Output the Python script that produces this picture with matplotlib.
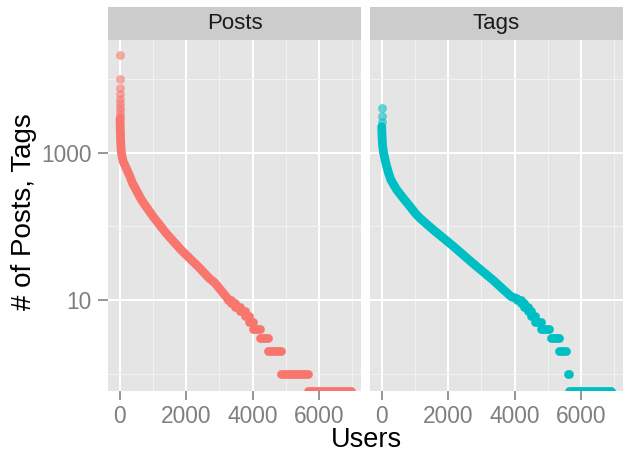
import numpy as np
import matplotlib
matplotlib.use("Agg")
import matplotlib.pyplot as plt
from matplotlib.ticker import FixedLocator, NullFormatter

plt.rcParams['font.family'] = ['Liberation Sans', 'DejaVu Sans']

W, H, DPI = 623, 455, 100

panel_names = ["Posts", "Tags"]
panel_colors = ["#F8766D", "#00BFC4"]

# ---- Posts (rank of user -> number of posts) ----
posts_head_rank = [1, 2, 3, 4, 5, 6, 7, 8, 9, 10]
posts_head_value = [21500, 10000, 7600, 6300, 5500, 4800, 4200, 3800, 3400, 3100]
posts_curve_rank = [12, 20, 30, 45, 70, 110, 200, 310, 390, 660, 1010, 1400, 1850, 2380, 2700, 2870, 3250]
posts_curve_value = [2900, 2100, 1450, 1100, 900, 760, 620, 480, 387, 229, 136, 81, 48, 28, 19.7, 17, 10.5]
posts_step_value = [10, 9, 8, 7, 6, 5, 4, 3, 2, 1, 0]
posts_step_start = [3250, 3350, 3480, 3620, 3760, 3900, 4020, 4230, 4480, 4870, 5680]
posts_step_end = [3350, 3480, 3620, 3760, 3900, 4020, 4230, 4470, 4870, 5670, 6950]

# ---- Tags (rank of user -> number of tags) ----
tags_head_rank = [1, 2, 3]
tags_head_value = [4060, 3180, 2670]
tags_curve_rank = [4, 8, 15, 30, 60, 120, 210, 280, 460, 660, 860, 1010, 1160, 1560, 2160, 2750, 3350, 3900, 4080]
tags_curve_value = [2280, 1900, 1600, 1250, 1000, 750, 530, 430, 313, 240, 186, 152, 129, 89.7, 53.7, 31.5, 18.7, 11.1, 10.4]
tags_step_value = [10, 9, 8, 7, 6, 5, 4, 3, 2, 1, 0]
tags_step_start = [4080, 4200, 4300, 4400, 4500, 4620, 4800, 5100, 5350, 5605, 5650]
tags_step_end = [4200, 4300, 4400, 4500, 4620, 4790, 5040, 5340, 5560, 5635, 6900]

x_ticks = [0, 2000, 4000, 6000]
x_minor = [1000, 3000, 5000, 7000]
y_ticks = [10, 1000]
y_tick_labels = ["10", "1000"]
y_minor = [1, 100, 10000]

series = [
    (posts_head_rank, posts_head_value, posts_curve_rank, posts_curve_value,
     posts_step_value, posts_step_start, posts_step_end),
    (tags_head_rank, tags_head_value, tags_curve_rank, tags_curve_value,
     tags_step_value, tags_step_start, tags_step_end),
]

XLIM = (-350, 7265)
YLIM = (10 ** -0.238, 10 ** 4.537)

fig = plt.figure(figsize=(W / DPI, H / DPI), dpi=DPI)

def px_axes(left, top, right, bottom):
    return fig.add_axes([left / W, 1 - bottom / H, (right - left) / W, (bottom - top) / H])

panel_px = [(108, 361), (370, 623)]
pt = 72 / DPI
band_lw = 8.8 * pt
grey50 = "#7F7F7F"

for i, (name, col, (l, r), data) in enumerate(zip(panel_names, panel_colors, panel_px, series)):
    hr, hv, cr, cv, sv, ss, se = data
    ax = px_axes(l, 40, r, 391)
    ax.set_facecolor("#E5E5E5")
    for s in ax.spines.values():
        s.set_visible(False)
    ax.set_yscale("log")
    ax.set_xlim(*XLIM)
    ax.set_ylim(*YLIM)
    ax.set_axisbelow(True)

    ax.xaxis.set_major_locator(FixedLocator(x_ticks))
    ax.xaxis.set_minor_locator(FixedLocator(x_minor))
    ax.yaxis.set_major_locator(FixedLocator(y_ticks))
    ax.yaxis.set_minor_locator(FixedLocator(y_minor))
    ax.yaxis.set_minor_formatter(NullFormatter())
    ax.set_xticklabels([str(t) for t in x_ticks])
    ax.set_yticklabels(y_tick_labels)

    ax.grid(which="major", color="white", linewidth=2.0 * pt)
    ax.grid(which="minor", color="#F2F2F2", linewidth=1.0 * pt)
    ax.tick_params(which="minor", length=0)
    ax.tick_params(axis="x", which="major", length=9 * pt, width=1.6 * pt,
                   color=grey50, labelcolor=grey50, labelsize=16.4, pad=3.5)
    if i == 0:
        ax.tick_params(axis="y", which="major", length=10 * pt, width=1.6 * pt,
                       color=grey50, labelcolor=grey50, labelsize=16.4, pad=4.5)
    else:
        ax.tick_params(axis="y", which="major", length=0, labelleft=False)

    # continuous band of densely packed points
    ax.plot(cr, cv, color=col, lw=band_lw, solid_capstyle="round",
            solid_joinstyle="round", zorder=3)
    # integer-valued tail levels (0 drawn at panel bottom, like -Inf on a log scale)
    for v, a, b in zip(sv, ss, se):
        yv = v if v > 0 else YLIM[0]
        ax.plot([a, b], [yv, yv], color=col, lw=band_lw, solid_capstyle="round", zorder=3)
    # isolated top-ranked users
    ax.scatter(hr, hv, s=(8.8 * pt) ** 2, color=col, alpha=0.6, linewidths=0, zorder=4)

    # strip
    sax = px_axes(l, 7, r, 40)
    sax.set_facecolor("#CCCCCC")
    sax.set_xticks([])
    sax.set_yticks([])
    for s in sax.spines.values():
        s.set_visible(False)
    sax.text(0.5, 0.5, name, ha="center", va="center", fontsize=16, color="#1A1A1A",
             transform=sax.transAxes)

fig.text(24 / W, 1 - 212 / H, "# of Posts, Tags", rotation=90, ha="center", va="center",
         fontsize=20, color="black")
fig.text(366 / W, 1 - 440 / H, "Users", ha="center", va="center", fontsize=19.5, color="black")

fig.savefig("out.png", dpi=DPI)
